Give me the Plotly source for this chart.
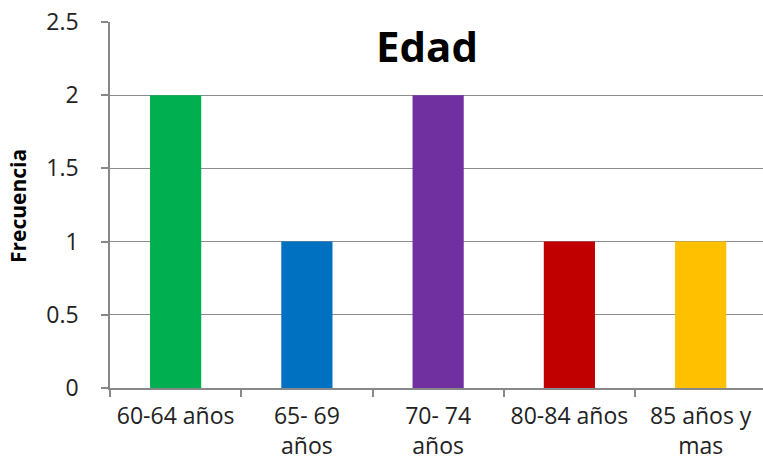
import plotly.graph_objects as go

categories = ["60-64 años", "65- 69<br>años", "70- 74<br>años", "80-84 años", "85 años y<br>mas"]
values = [2, 1, 2, 1, 1]
colors = ["#00B050", "#0070C0", "#7030A0", "#C00000", "#FFC000"]
y_ticks = [0, 0.5, 1, 1.5, 2, 2.5]
y_ticklabels = ["0", "0.5", "1", "1.5", "2", "2.5"]

W, H = 763, 465
L, R, T, B = 110, 0, 22, 77

fig = go.Figure(go.Bar(x=categories, y=values, marker=dict(color=colors, line=dict(width=0)),
                       width=0.39))

fig.update_layout(
    template="none",
    width=W, height=H,
    margin=dict(l=L, r=R, t=T, b=B, pad=0),
    paper_bgcolor="white", plot_bgcolor="white",
    font=dict(family="Open Sans", color="#222222", size=23),
    showlegend=False,
    title=dict(text="<b>Edad</b>", x=427 / W, xanchor="center", xref="container",
               y=1 - 47 / H, yanchor="middle", yref="container",
               font=dict(family="Open Sans", size=42, color="#000000")),
    xaxis=dict(type="category", range=[-0.5, 4.475], showgrid=False, automargin=False,
               showline=True, linecolor="#888888", linewidth=1.5, tickangle=0,
               ticks="outside", tickson="boundaries", ticklen=7, tickcolor="#888888", tickwidth=1.5,
               ticklabelstandoff=7, tickfont=dict(size=23, color="#222222")),
    yaxis=dict(range=[0, 2.5], tickvals=y_ticks, ticktext=y_ticklabels, automargin=False,
               showgrid=True, gridcolor="#8c8c8c", gridwidth=1.2,
               showline=True, linecolor="#888888", linewidth=1.5,
               ticks="outside", ticklen=7, tickcolor="#888888", tickwidth=1.5,
               ticklabelstandoff=18, tickfont=dict(size=23, color="#222222"),
               zeroline=False),
    annotations=[dict(text="<b>Frecuencia</b>", textangle=-90, xref="paper", yref="paper",
                      x=(18 - L) / (W - L - R), y=(388 - 206) / 366, xanchor="center", yanchor="middle",
                      showarrow=False, font=dict(family="Open Sans", size=21, color="#000000"))],
)

fig.write_html("out.html", config={"displayModeBar": False},
               post_script="document.body.style.margin='0px';document.body.style.overflow='hidden';")
